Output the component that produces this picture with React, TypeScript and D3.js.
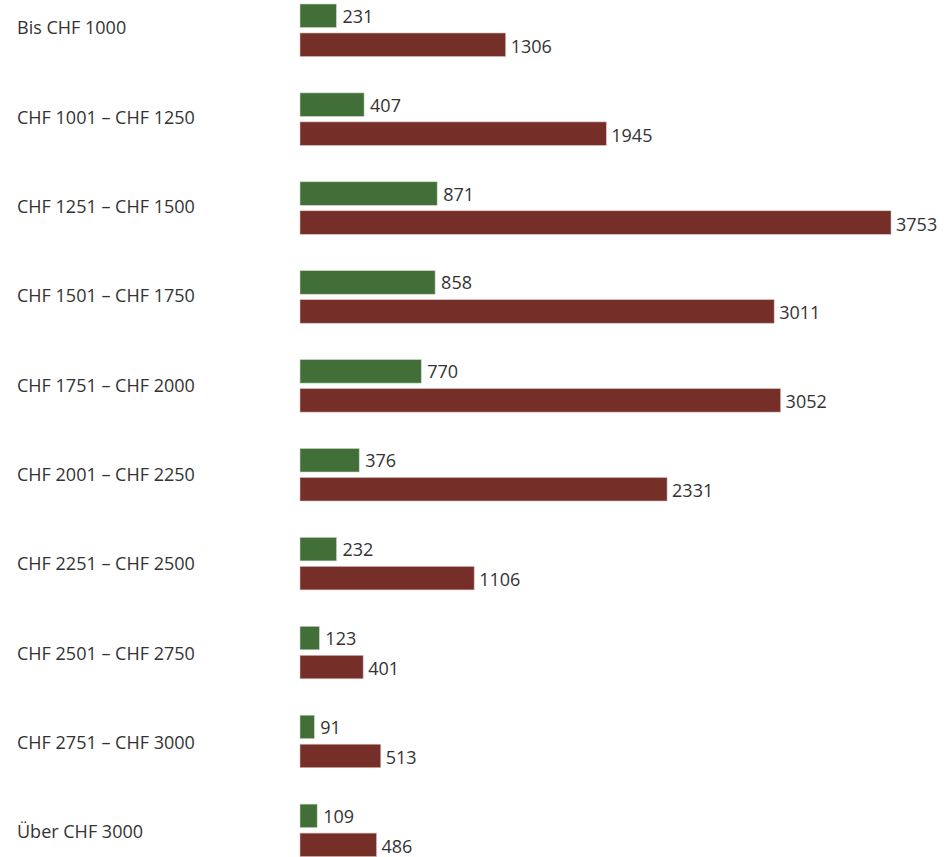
import React from "react";
import * as d3 from "d3";

const categories = [
  "Bis CHF 1000",
  "CHF 1001 – CHF 1250",
  "CHF 1251 – CHF 1500",
  "CHF 1501 – CHF 1750",
  "CHF 1751 – CHF 2000",
  "CHF 2001 – CHF 2250",
  "CHF 2251 – CHF 2500",
  "CHF 2501 – CHF 2750",
  "CHF 2751 – CHF 3000",
  "Über CHF 3000",
];
const greenValues = [231, 407, 871, 858, 770, 376, 232, 123, 91, 109];
const redValues = [1306, 1945, 3753, 3011, 3052, 2331, 1106, 401, 513, 486];

const W = 949;
const H = 857;
const FONT = "'Open Sans', 'DejaVu Sans', sans-serif";

export default function App() {
  const x = d3.scaleLinear().domain([0, 3753]).range([300, 891]);
  const y = d3
    .scaleBand<string>()
    .domain(categories)
    .range([4, 4 + 88.9 * categories.length]);
  const barH = 23.5;
  const gap = 5.5;
  const textColor = "#333333";
  return (
    <div style={{ position: "absolute", left: 0, top: 0 }}>
      <svg width={W} height={H} style={{ display: "block", background: "#fff" }}>
        {categories.map((c, i) => {
          const top = y(c)!;
          const gy = top;
          const ry = top + barH + gap;
          return (
            <g key={c}>
              <text
                x={17}
                y={(gy + ry + barH) / 2 - 3 + i * 0.45}
                dominantBaseline="central"
                fontFamily={FONT}
                fontSize={18}
                fill={textColor}
              >
                {c}
              </text>
              <rect
                x={x(0)}
                y={gy}
                width={x(greenValues[i]) - x(0)}
                height={barH}
                fill="#426f37"
                stroke="#c9d6c4"
                strokeWidth={0.6}
              />
              <text
                x={x(greenValues[i]) + 6}
                y={gy + barH / 2}
                dominantBaseline="central"
                fontFamily={FONT}
                fontSize={18}
                fill={textColor}
              >
                {greenValues[i]}
              </text>
              <rect
                x={x(0)}
                y={ry}
                width={x(redValues[i]) - x(0)}
                height={barH}
                fill="#762e29"
                stroke="#d8bdbb"
                strokeWidth={0.6}
              />
              <text
                x={x(redValues[i]) + 5}
                y={ry + barH / 2 + 1}
                dominantBaseline="central"
                fontFamily={FONT}
                fontSize={18}
                fill={textColor}
              >
                {redValues[i]}
              </text>
            </g>
          );
        })}
      </svg>
    </div>
  );
}
